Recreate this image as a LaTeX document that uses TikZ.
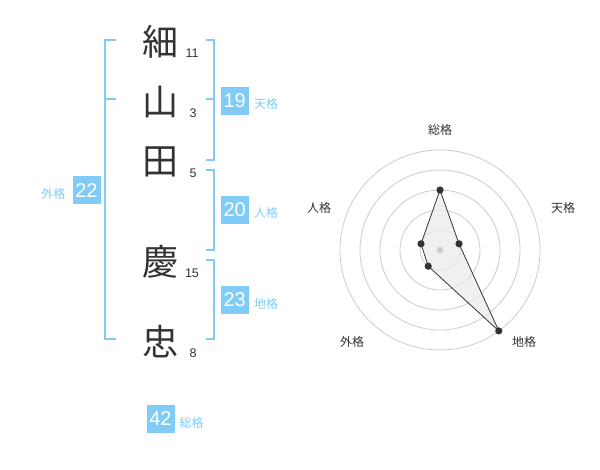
\documentclass[tikz,border=0pt]{standalone}
\usepackage{fontspec}
\setmainfont{Liberation Sans}
\newfontfamily\jp{Noto Sans CJK JP}
\definecolor{bl}{RGB}{128,204,247}
\definecolor{ink}{RGB}{51,51,51}
\definecolor{grid}{RGB}{204,204,204}
\begin{document}
\begin{tikzpicture}[x=1pt,y=-1pt,
  kanji/.style={font=\jp\fontsize{36}{36}\selectfont, text=ink, inner sep=0},
  strokes/.style={font=\fontsize{12.5}{12.5}\selectfont, text=ink, inner sep=0},
  numbox/.style={fill=bl, text=white, minimum size=28pt, inner sep=0, font=\fontsize{20}{20}\selectfont},
  lab/.style={text=bl, font=\jp\fontsize{12}{12}\selectfont, inner sep=0},
  rlab/.style={text=ink, font=\jp\fontsize{12}{12}\selectfont, inner sep=0},
  brk/.style={draw=bl, line width=2pt, line join=miter},
  ring/.style={draw=grid, line width=0.8pt},
  pt/.style={fill=ink, circle, inner sep=0, minimum size=7pt}]
\useasboundingbox (0,0) rectangle (600,470);
\fill[white] (0,0) rectangle (600,470);
% kanji
\node[kanji] (k1) at (160,42) {細};
\node[kanji] (k2) at (160,102) {山};
\node[kanji] (k3) at (160,162) {田};
\node[kanji] (k4) at (160,262) {慶};
\node[kanji] (k5) at (160,342) {忠};
% strokes
\node[strokes] (s1) at (192,53) {11};
\node[strokes] (s2) at (193,113) {3};
\node[strokes] (s3) at (193,173) {5};
\node[strokes] (s4) at (192,273) {15};
\node[strokes] (s5) at (193,353) {8};
% brackets
\draw[brk] (116,40) -- (105,40) -- (105,339.3) -- (116,339.3);
\draw[brk] (105,99.3) -- (116,99.3);
\draw[brk] (205.7,40) -- (214.3,40) -- (214.3,160) -- (205.7,160);
\draw[brk] (205.7,99.3) -- (214.3,99.3);
\draw[brk] (205.7,170) -- (214.3,170) -- (214.3,250) -- (205.7,250);
\draw[brk] (205.7,260) -- (214.3,260) -- (214.3,339.3) -- (205.7,339.3);
% boxes
\node[numbox] (b22) at (86.5,190.3) {22};
\node[lab] (l22) at (53.3,194) {外格};
\node[numbox] (b19) at (234.7,100.7) {19};
\node[lab] (l19) at (266,104.3) {天格};
\node[numbox] (b20) at (234.7,210) {20};
\node[lab] (l20) at (266,213.3) {人格};
\node[numbox] (b23) at (234.7,300) {23};
\node[lab] (l23) at (266,304.3) {地格};
\node[numbox] (b42) at (160.5,419) {42};
\node[lab] (l42) at (191.7,422.7) {総格};
% radar
\coordinate (c) at (440,250);
\foreach \r in {20,40,60,80,100} \draw[ring] (c) circle[radius=\r];
\coordinate (pS) at (440,190);
\coordinate (pT) at (459.0,243.8);
\coordinate (pC) at (498.8,330.9);
\coordinate (pG) at (428.2,266.2);
\coordinate (pJ) at (421.0,243.8);
\filldraw[draw=ink, fill=black!8, fill opacity=0.7, line width=0.8pt, line join=miter] (pS) -- (pT) -- (pC) -- (pG) -- (pJ) -- cycle;
\fill[grid] (c) circle[radius=3.2];
\foreach \p in {pS,pT,pC,pG,pJ} \fill[ink] (\p) circle[radius=3.6];
\node[rlab] (rS) at (440,130) {総格};
\node[rlab] (rT) at (563,208) {天格};
\node[rlab] (rJ) at (319,208) {人格};
\node[rlab] (rG) at (352,342) {外格};
\node[rlab] (rC) at (524,342) {地格};
\end{tikzpicture}
\end{document}
